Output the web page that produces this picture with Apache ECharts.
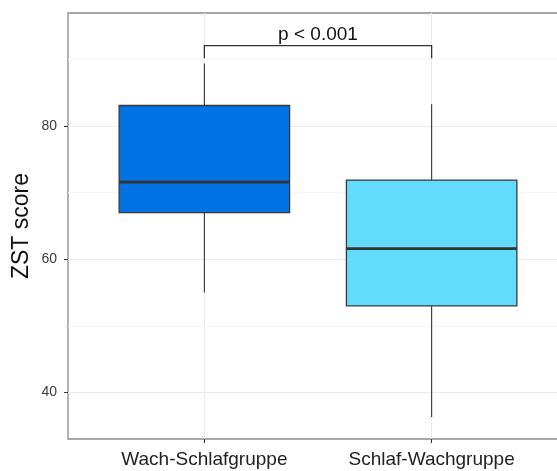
<!DOCTYPE html>
<html><head><meta charset="utf-8">
<script src="https://cdn.jsdelivr.net/npm/echarts@6/dist/echarts.min.js"></script>
<style>html,body{margin:0;padding:0;background:#fff}#c{width:557px;height:471px}</style>
</head><body><div id="c"></div>
<script>
const categories = ['Wach-Schlafgruppe', 'Schlaf-Wachgruppe'];
const whiskerLow = [55.0, 36.3];
const q1 = [67.0, 53.0];
const median = [71.6, 61.6];
const q3 = [83.1, 71.9];
const whiskerHigh = [89.4, 83.3];
const boxColors = ['#0072E4', '#63DBFB'];
const yTicks = [40, 60, 80];
const yMinor = [50, 70, 90];
const pLabel = 'p < 0.001';
const bracketLow = 90.2;
const bracketHigh = 92.1;
const labelY = 93.7;

const positions = categories.map((c, i) => i + 1);
const boxData = positions.map((p, i) => [p, whiskerLow[i], q1[i], median[i], q3[i], whiskerHigh[i]]);

const chart = echarts.init(document.getElementById('c'), null, {renderer: 'canvas'});
chart.setOption({
  animation: false,
  grid: {left: 68, top: 13, width: 500, height: 426, show: true, borderColor: '#8a8a8a', borderWidth: 1.3, containLabel: false, outerBoundsMode: 'none'},
  xAxis: {
    type: 'value', min: 0.4, max: 2.6,
    axisLine: {show: false},
    axisTick: {show: true, customValues: positions, length: 4, lineStyle: {color: '#333', width: 1}},
    axisLabel: {customValues: positions, formatter: v => categories[Math.round(v) - 1] || '', color: '#222', fontSize: 19, fontFamily: 'Liberation Sans, Arial', margin: 11},
    splitLine: {show: true, lineStyle: {color: '#EBEBEB', width: 1}}
  },
  yAxis: {
    type: 'value', min: 33, max: 97,
    name: 'ZST score', nameLocation: 'middle', nameGap: 35, nameRotate: 90, nameMoveOverlap: false,
    nameTextStyle: {fontSize: 23, color: '#111', fontFamily: 'Liberation Sans, Arial'},
    axisLine: {show: false},
    axisTick: {show: true, customValues: yTicks, length: 4, lineStyle: {color: '#333', width: 1}},
    axisLabel: {customValues: yTicks, color: '#3a3a3a', fontSize: 14, fontFamily: 'Liberation Sans, Arial', margin: 11},
    splitLine: {show: true, lineStyle: {color: '#EBEBEB', width: 1}}
  },
  series: [
    {
      type: 'line', data: [], silent: true, z: 0, zlevel: 0,
      markLine: {
        silent: true, symbol: 'none', label: {show: false}, z: 0,
        lineStyle: {color: '#F6F6F6', width: 1, type: 'solid'},
        data: yMinor.map(v => ({yAxis: v}))
      }
    },
    {
      type: 'custom', z: 5,
      data: boxData,
      encode: {x: 0, y: [1, 2, 3, 4, 5]},
      renderItem: function (params, api) {
        const x = api.value(0);
        const idx = params.dataIndex;
        const half = 0.375;
        const pLow = api.coord([x, api.value(1)]);
        const pQ1 = api.coord([x, api.value(2)]);
        const pMed = api.coord([x, api.value(3)]);
        const pQ3 = api.coord([x, api.value(4)]);
        const pHigh = api.coord([x, api.value(5)]);
        const xl = api.coord([x - half, 0])[0];
        const xr = api.coord([x + half, 0])[0];
        return {
          type: 'group',
          children: [
            {type: 'line', shape: {x1: pQ3[0], y1: pQ3[1], x2: pHigh[0], y2: pHigh[1]}, style: {stroke: '#333', lineWidth: 1.1}},
            {type: 'line', shape: {x1: pQ1[0], y1: pQ1[1], x2: pLow[0], y2: pLow[1]}, style: {stroke: '#333', lineWidth: 1.1}},
            {type: 'rect', shape: {x: xl, y: pQ3[1], width: xr - xl, height: pQ1[1] - pQ3[1]}, style: {fill: boxColors[idx], stroke: '#3a3a3a', lineWidth: 1.3}},
            {type: 'line', shape: {x1: xl, y1: pMed[1], x2: xr, y2: pMed[1]}, style: {stroke: '#333', lineWidth: 2.8}}
          ]
        };
      }
    },
    {
      type: 'custom', z: 5,
      data: [[positions[0], positions[1], bracketLow, bracketHigh, labelY]],
      encode: {x: [0, 1], y: [2, 3, 4]},
      renderItem: function (params, api) {
        const a = api.coord([api.value(0), api.value(2)]);
        const b = api.coord([api.value(0), api.value(3)]);
        const c = api.coord([api.value(1), api.value(3)]);
        const d = api.coord([api.value(1), api.value(2)]);
        const t = api.coord([(api.value(0) + api.value(1)) / 2, api.value(4)]);
        return {
          type: 'group',
          children: [
            {type: 'polyline', shape: {points: [a, b, c, d]}, style: {stroke: '#333', lineWidth: 1.3, fill: null}},
            {type: 'text', x: t[0], y: t[1], style: {text: pLabel, fill: '#111', fontSize: 19, fontFamily: 'Liberation Sans, Arial', align: 'center', verticalAlign: 'middle'}}
          ]
        };
      }
    }
  ]
});
</script></body></html>
